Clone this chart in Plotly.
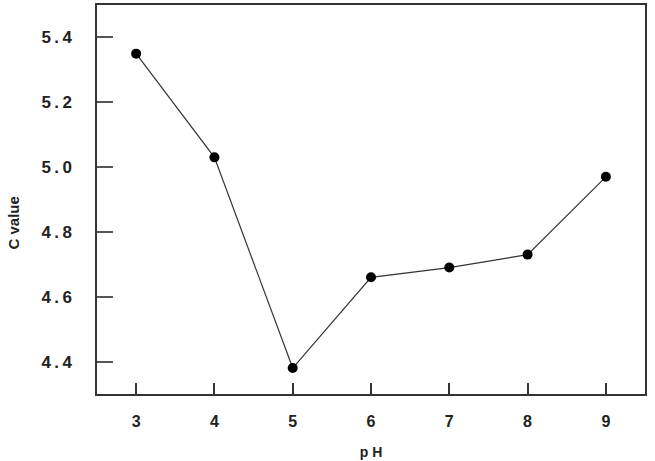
import plotly.graph_objects as go

ph = [3, 4, 5, 6, 7, 8, 9]
c_value = [5.35, 5.03, 4.38, 4.66, 4.69, 4.73, 4.97]

x_ticks = [3, 4, 5, 6, 7, 8, 9]
x_ticktext = ["3", "4", "5", "6", "7", "8", "9"]
y_ticks = [4.4, 4.6, 4.8, 5.0, 5.2, 5.4]
y_ticktext = ["4\u2009.\u20094", "4\u2009.\u20096", "4\u2009.\u20098", "5\u2009.\u20090", "5\u2009.\u20092", "5\u2009.\u20094"]

fig = go.Figure()
fig.add_trace(go.Scatter(
    x=ph, y=c_value, mode="lines+markers",
    line=dict(color="#333333", width=1.2),
    marker=dict(color="black", size=10),
    showlegend=False,
))

font_family = "Liberation Sans, Arial, sans-serif"
fig.update_layout(
    width=655, height=461,
    margin=dict(l=97, r=10, t=3, b=67),
    paper_bgcolor="white", plot_bgcolor="white",
    font=dict(family=font_family, color="#222222"),
)
fig.update_xaxes(
    range=[2.5, 9.5], tickvals=x_ticks, ticktext=x_ticktext,
    ticks="inside", ticklen=11, tickwidth=1.5, tickcolor="#333333",
    showline=True, linecolor="#333333", linewidth=1.5, mirror=True,
    showgrid=False, zeroline=False,
    tickfont=dict(size=16, family=font_family, weight="bold", color="#222222"),
    ticklabelstandoff=12,
    title=dict(text="p H", font=dict(size=14, weight="bold", color="#222222"), standoff=18),
)
fig.update_yaxes(
    range=[4.3, 5.5], tickvals=y_ticks, ticktext=y_ticktext,
    ticks="inside", ticklen=16, tickwidth=1.5, tickcolor="#555555",
    showline=True, linecolor="#333333", linewidth=1.5, mirror=True,
    showgrid=False, zeroline=False,
    tickfont=dict(size=17, family=font_family, weight="bold", color="#222222"),
    ticklabelstandoff=20,
)
fig.add_annotation(
    text="C value", textangle=-90, showarrow=False,
    xref="paper", yref="paper", x=-0.152, y=0.44,
    xanchor="center", yanchor="middle",
    font=dict(size=15, family=font_family, weight="bold", color="#222222"),
)

fig.write_html("out.html")
